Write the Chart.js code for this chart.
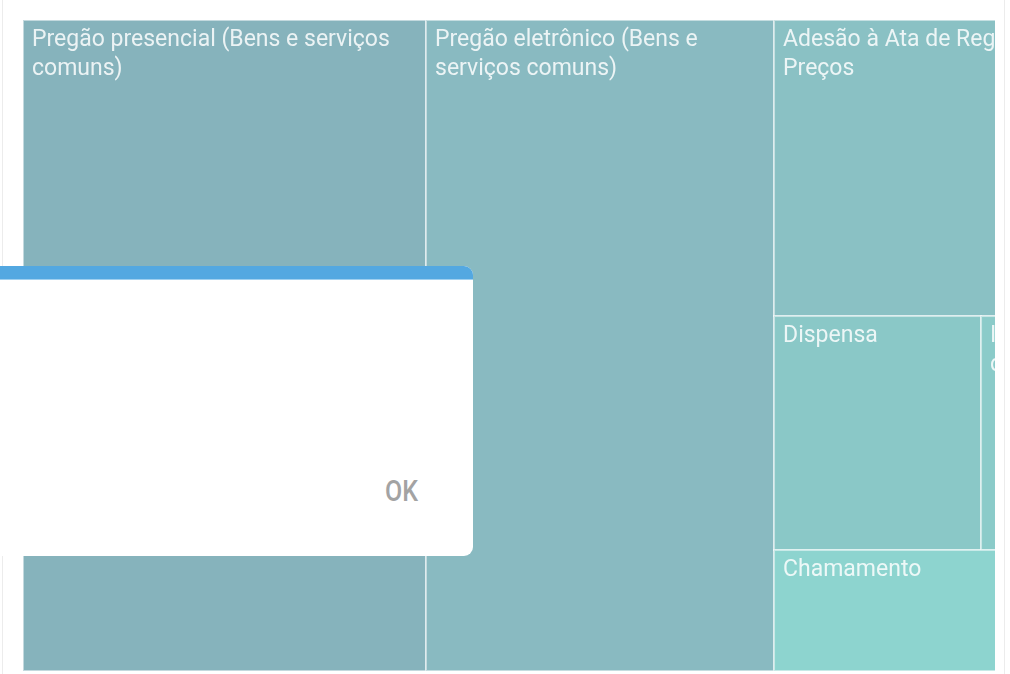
<!DOCTYPE html>
<html>
<head>
<meta charset="utf-8">
<script src="https://cdn.jsdelivr.net/npm/chart.js@4.4.0/dist/chart.umd.min.js"></script>
<style>
  html, body { margin: 0; padding: 0; background: #fff; width: 1010px; height: 674px; overflow: hidden; }
  .frame { position: absolute; left: 2px; top: 0; width: 1003px; height: 674px;
           border-left: 1px solid #ececec; border-right: 1px solid #ececec; box-sizing: border-box; }
  .clip { position: absolute; left: 23px; top: 20px; width: 972px; height: 651px; overflow: hidden; }
  .dialog { position: absolute; left: -20px; top: 266px; width: 493px; height: 290px; background: #fff;
            border-radius: 0 9px 9px 0; overflow: hidden; }
  .dialog .bar { height: 13px; background: #53a8e1; border-bottom: 1px solid #9fd0f0; }
  .dialog .ok { position: absolute; left: 405px; top: 208px; font-family: Roboto, sans-serif; font-size: 29px;
                font-weight: 500; color: #a3a3a3; transform: scaleX(0.86); transform-origin: left top; }
</style>
</head>
<body>
<div class="frame"></div>
<div class="clip">
  <canvas id="myChart" width="1091" height="651"></canvas>
</div>
<div class="dialog"><div class="bar"></div><div class="ok">OK</div></div>
<script>
// modalidades e valores (R$ milhões)
const labels = [
  'Pregão presencial (Bens e serviços comuns)',
  'Pregão eletrônico (Bens e serviços comuns)',
  'Adesão à Ata de Registro de Preços',
  'Dispensa',
  'Inexigibilidade credenciamento',
  'Chamamento',
  'Concorrência'
];
const values = [369.4, 319.0, 141.7, 68.2, 43.8, 42.6, 15.3];
const colors = ['#86b3bc', '#89bac1', '#8ac1c4', '#8ac8c7', '#8bcbc9', '#8dd4cf', '#90d9d3'];

const TREE_W = 1091;
const TREE_H = 651;

// squarified treemap (Bruls et al.)
function worst(row, side) {
  const s = row.reduce((a, b) => a + b, 0);
  const mx = Math.max(...row), mn = Math.min(...row);
  return Math.max(side * side * mx / (s * s), (s * s) / (side * side * mn));
}
function placeRow(row, idx, rect, out) {
  const s = row.reduce((a, b) => a + b, 0);
  if (rect.w >= rect.h) {
    const cw = s / rect.h;
    let yy = rect.y;
    row.forEach((a, k) => { const hh = a / cw; out[idx[k]] = { x: rect.x, y: yy, w: cw, h: hh }; yy += hh; });
    return { x: rect.x + cw, y: rect.y, w: rect.w - cw, h: rect.h };
  }
  const rh = s / rect.w;
  let xx = rect.x;
  row.forEach((a, k) => { const ww = a / rh; out[idx[k]] = { x: xx, y: rect.y, w: ww, h: rh }; xx += ww; });
  return { x: rect.x, y: rect.y + rh, w: rect.w, h: rect.h - rh };
}
function squarify(vals, W, H) {
  const total = vals.reduce((a, b) => a + b, 0);
  const areas = vals.map(v => v * W * H / total);
  const out = [];
  let rect = { x: 0, y: 0, w: W, h: H };
  let row = [], idx = [];
  let i = 0;
  while (i < areas.length) {
    const side = Math.min(rect.w, rect.h);
    const cand = row.concat([areas[i]]);
    if (row.length === 0 || worst(cand, side) <= worst(row, side)) {
      row = cand; idx.push(i); i++;
    } else {
      rect = placeRow(row, idx, rect, out);
      row = []; idx = [];
    }
  }
  if (row.length) placeRow(row, idx, rect, out);
  return out;
}

const cells = squarify(values, TREE_W, TREE_H);

function wrap(ctx, text, maxW) {
  const words = text.split(' ');
  const lines = [];
  let line = '';
  words.forEach(w => {
    const test = line ? line + ' ' + w : w;
    if (line && ctx.measureText(test).width > maxW) { lines.push(line); line = w; }
    else line = test;
  });
  if (line) lines.push(line);
  return lines;
}

const treemapPlugin = {
  id: 'treemap',
  afterDatasetsDraw(chart) {
    const { ctx, scales: { x, y }, chartArea } = chart;
    ctx.save();
    ctx.beginPath();
    ctx.rect(chartArea.left, chartArea.top, chartArea.right - chartArea.left, chartArea.bottom - chartArea.top);
    ctx.clip();
    cells.forEach((c, i) => {
      const x0 = x.getPixelForValue(c.x), x1 = x.getPixelForValue(c.x + c.w);
      const y0 = y.getPixelForValue(c.y), y1 = y.getPixelForValue(c.y + c.h);
      ctx.fillStyle = colors[i];
      ctx.fillRect(x0, y0, x1 - x0, y1 - y0);
      ctx.strokeStyle = 'rgba(255,255,255,0.5)';
      ctx.lineWidth = 2;
      ctx.strokeRect(x0, y0, x1 - x0, y1 - y0);

      ctx.save();
      ctx.beginPath();
      ctx.rect(x0 + 2, y0 + 2, x1 - x0 - 4, y1 - y0 - 4);
      ctx.clip();
      ctx.font = '23px Roboto';
      ctx.fillStyle = 'rgba(255,255,255,0.84)';
      ctx.textBaseline = 'alphabetic';
      const lines = wrap(ctx, labels[i], x1 - x0 - 18);
      lines.forEach((ln, k) => ctx.fillText(ln, x0 + 9, y0 + 26 + k * 29));
      ctx.restore();
    });
    ctx.restore();
  }
};

new Chart(document.getElementById('myChart'), {
  type: 'scatter',
  data: {
    datasets: [{
      data: cells.map((c, i) => ({ x: c.x + c.w / 2, y: c.y + c.h / 2, v: values[i] })),
      pointRadius: 0
    }]
  },
  options: {
    responsive: false,
    animation: false,
    layout: { padding: 0 },
    scales: {
      x: { type: 'linear', min: 0, max: TREE_W, display: false },
      y: { type: 'linear', min: 0, max: TREE_H, reverse: true, display: false }
    },
    plugins: { legend: { display: false }, tooltip: { enabled: false } }
  },
  plugins: [treemapPlugin]
});
</script>
</body>
</html>
